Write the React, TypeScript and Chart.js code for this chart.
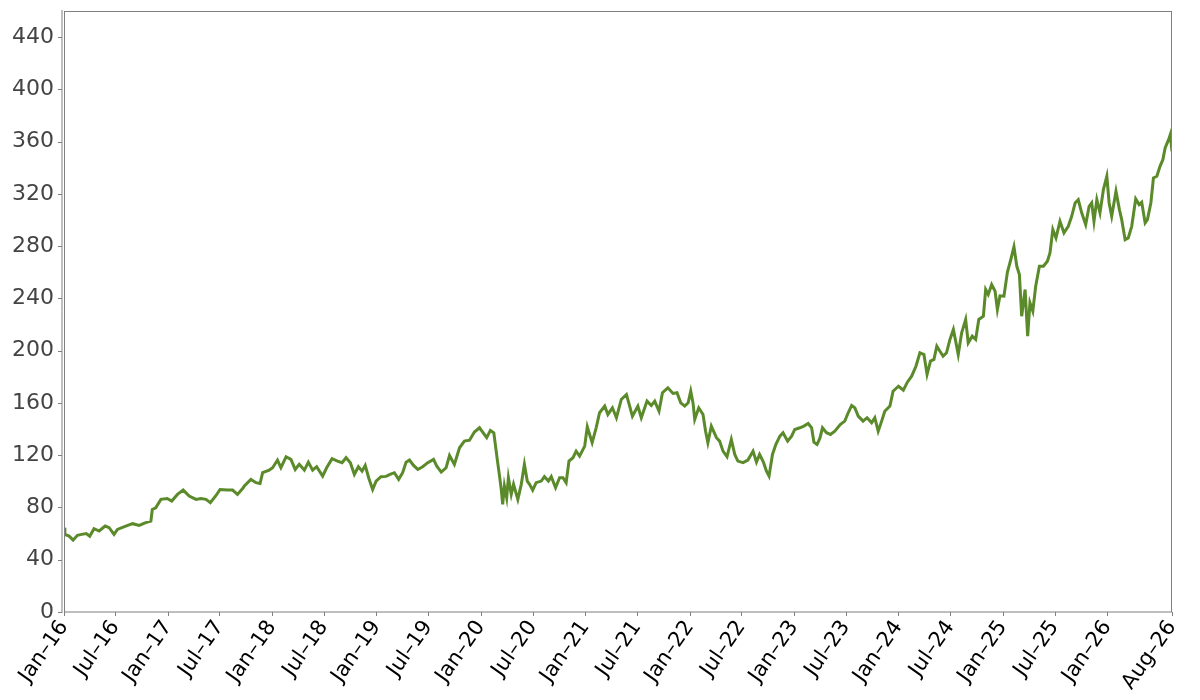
import { useEffect, useRef } from 'react';
import { Chart, registerables } from 'chart.js';

Chart.register(...registerables);

// closing values, one every couple of weeks
const dates = [
  '2016-01-04', '2016-01-07', '2016-01-22', '2016-02-05', '2016-02-20', '2016-03-06', '2016-03-22', '2016-04-03',
  '2016-04-18', '2016-05-06', '2016-05-27', '2016-06-10', '2016-06-27', '2016-07-09', '2016-08-07', '2016-08-31',
  '2016-09-23', '2016-10-16', '2016-11-03', '2016-11-08', '2016-11-20', '2016-12-08', '2016-12-30',
  '2017-01-15', '2017-02-04', '2017-02-24', '2017-03-17', '2017-04-10', '2017-04-27', '2017-05-15', '2017-05-30',
  '2017-06-19', '2017-07-03', '2017-07-29', '2017-08-16', '2017-09-02', '2017-09-20', '2017-09-26', '2017-10-19',
  '2017-11-06', '2017-11-20', '2017-11-29', '2017-12-22',
  '2018-01-03', '2018-01-20', '2018-02-01', '2018-02-19', '2018-03-08', '2018-03-23', '2018-04-06', '2018-04-24',
  '2018-05-08', '2018-05-23', '2018-06-06', '2018-06-27', '2018-07-11', '2018-07-30', '2018-08-18', '2018-09-03',
  '2018-09-17', '2018-10-02', '2018-10-16', '2018-10-30', '2018-11-12', '2018-11-23', '2018-12-05', '2018-12-19',
  '2018-12-31',
  '2019-01-17', '2019-02-04', '2019-02-18', '2019-03-05', '2019-03-20', '2019-04-03', '2019-04-15', '2019-04-27',
  '2019-05-11', '2019-05-26', '2019-06-12', '2019-06-30', '2019-07-20', '2019-07-31', '2019-08-16', '2019-09-02',
  '2019-09-14', '2019-10-01', '2019-10-19', '2019-11-05', '2019-11-23', '2019-12-10', '2019-12-28',
  '2020-01-08', '2020-01-22', '2020-02-04', '2020-02-16', '2020-02-22', '2020-02-28', '2020-03-07', '2020-03-13',
  '2020-03-18', '2020-03-24', '2020-04-01', '2020-04-07', '2020-04-17', '2020-04-25', '2020-05-10', '2020-05-22',
  '2020-06-02', '2020-06-12', '2020-06-20', '2020-07-01', '2020-07-13', '2020-07-31', '2020-08-11', '2020-08-25',
  '2020-09-04', '2020-09-19', '2020-10-03', '2020-10-15', '2020-10-26', '2020-11-05', '2020-11-19', '2020-11-30',
  '2020-12-12', '2020-12-30',
  '2021-01-08', '2021-01-25', '2021-02-08', '2021-02-20', '2021-03-10', '2021-03-21', '2021-04-06', '2021-04-20',
  '2021-05-07', '2021-05-25', '2021-06-15', '2021-07-04', '2021-07-16', '2021-08-05', '2021-08-20', '2021-09-01',
  '2021-09-16', '2021-09-28', '2021-10-17', '2021-11-04', '2021-11-18', '2021-12-01', '2021-12-15', '2021-12-27',
  '2022-01-05', '2022-01-13', '2022-01-19', '2022-02-02', '2022-02-17', '2022-02-26', '2022-03-06', '2022-03-18',
  '2022-04-05', '2022-04-16', '2022-04-28', '2022-05-12', '2022-05-27', '2022-06-08', '2022-06-19', '2022-07-07',
  '2022-07-24', '2022-08-11', '2022-08-23', '2022-09-03', '2022-09-17', '2022-09-27', '2022-10-06', '2022-10-18',
  '2022-10-30', '2022-11-13', '2022-11-24', '2022-12-10', '2022-12-24',
  '2023-01-04', '2023-01-22', '2023-02-05', '2023-02-20', '2023-03-04', '2023-03-12', '2023-03-23', '2023-04-02',
  '2023-04-11', '2023-04-25', '2023-05-09', '2023-05-24', '2023-06-13', '2023-06-28', '2023-07-10', '2023-07-22',
  '2023-08-02', '2023-08-14', '2023-08-31', '2023-09-14', '2023-09-30', '2023-10-11', '2023-10-23', '2023-11-04',
  '2023-11-15', '2023-12-03', '2023-12-14',
  '2024-01-02', '2024-01-19', '2024-02-02', '2024-02-17', '2024-03-03', '2024-03-17', '2024-03-31', '2024-04-11',
  '2024-04-23', '2024-05-05', '2024-05-15', '2024-05-26', '2024-06-06', '2024-06-18', '2024-06-30', '2024-07-12',
  '2024-07-20', '2024-07-29', '2024-08-10', '2024-08-24', '2024-09-02', '2024-09-16', '2024-09-28', '2024-10-09',
  '2024-10-25', '2024-11-02', '2024-11-11', '2024-11-23', '2024-12-05', '2024-12-13', '2024-12-22',
  '2025-01-05', '2025-01-17', '2025-01-29', '2025-02-09', '2025-02-19', '2025-02-28', '2025-03-08', '2025-03-20',
  '2025-03-29', '2025-04-06', '2025-04-16', '2025-04-26', '2025-05-09', '2025-05-23', '2025-06-06', '2025-06-15',
  '2025-06-25', '2025-07-06', '2025-07-20', '2025-08-03', '2025-08-18', '2025-08-30', '2025-09-11', '2025-09-22',
  '2025-10-04', '2025-10-18', '2025-10-30', '2025-11-08', '2025-11-16', '2025-11-26', '2025-12-07', '2025-12-19',
  '2025-12-31',
  '2026-01-08', '2026-01-17', '2026-02-01', '2026-02-13', '2026-02-21', '2026-03-05', '2026-03-16', '2026-03-28',
  '2026-04-11', '2026-04-23', '2026-05-02', '2026-05-14', '2026-05-22', '2026-06-03', '2026-06-12', '2026-06-24',
  '2026-07-05', '2026-07-15', '2026-07-23', '2026-08-04', '2026-08-10', '2026-08-16',
];

const values = [
  64.5, 59.4, 58.1, 55.0, 58.7, 59.4, 60.0, 58.0,
  63.8, 62.0, 65.8, 64.5, 59.4, 63.2, 65.8, 67.6,
  66.3, 68.4, 69.6, 78.5, 79.8, 86.2, 86.9,
  84.9, 90.0, 93.3, 88.7, 86.2, 86.9, 86.2, 83.7,
  89.2, 93.8, 93.3, 93.3, 90.0, 94.5, 96.4, 101.5,
  99.0, 98.3, 106.6, 108.6,
  110.4, 116.3, 110.4, 118.8, 116.8, 109.1, 113.0, 108.6,
  114.7, 108.6, 111.2, 104.0, 110.4, 117.3, 115.5, 114.3,
  118.1, 114.3, 105.3, 111.2, 107.8, 112.2, 102.8, 93.8,
  100.2,
  103.6, 103.8, 105.3, 106.6, 101.5, 106.6, 114.7, 116.3,
  112.2, 109.1, 111.2, 114.3, 116.8, 111.8, 107.1, 110.4,
  119.8, 113.0, 125.7, 130.8, 131.5, 137.7, 141.0,
  137.7, 133.4, 139.0, 137.2, 127.0, 116.8, 104.0, 93.8,
  82.4, 96.4, 87.5, 102.8, 90.0, 97.7, 86.2, 97.7,
  113.0, 100.2, 97.7, 93.3, 99.0, 100.2, 103.6, 100.2,
  103.6, 95.1, 102.8, 102.8, 99.0, 115.5, 118.1, 123.1,
  119.3, 127.0,
  141.8, 129.6, 141.0, 152.5, 157.6, 151.2, 156.3, 148.7,
  162.7, 166.5, 149.9, 157.6, 148.7, 161.4, 158.0, 161.4,
  153.7, 167.8, 171.6, 167.3, 167.8, 160.1, 157.6, 160.1,
  169.0, 160.0, 147.4, 156.3, 151.2, 138.4, 129.6, 142.3,
  133.4, 130.8, 123.1, 118.8, 132.1, 120.6, 115.5, 114.3,
  116.3, 123.1, 114.7, 120.6, 114.3, 107.8, 104.0, 120.6,
  128.3, 134.6, 137.2, 130.8, 134.6,
  139.7, 141.0, 142.3, 144.3, 141.0, 130.0, 128.3, 133.0,
  141.0, 137.2, 135.9, 138.4, 143.6, 146.1, 152.5, 158.1,
  156.3, 149.9, 146.1, 148.7, 144.9, 148.7, 138.4, 146.1,
  153.7, 157.6, 169.0,
  172.8, 169.8, 175.9, 180.5, 188.1, 198.4, 197.1, 181.8,
  192.0, 193.3, 203.4, 199.6, 195.8, 198.4, 208.6, 216.2,
  207.3, 197.1, 213.7, 223.9, 206.0, 211.1, 208.6, 223.9,
  226.4, 246.8, 243.0, 250.6, 245.5, 231.5, 242.0,
  241.7, 260.0, 269.8, 279.5, 264.6, 258.3, 226.4, 246.8,
  211.1, 236.6, 230.2, 249.3, 264.6, 264.6, 268.5, 274.9,
  292.7, 286.3, 299.0, 290.2, 295.2, 302.9, 313.1, 315.6,
  305.5, 296.5, 310.5, 313.1, 299.0, 315.6, 305.5, 323.3,
  333.5,
  313.1, 302.9, 322.0, 308.0, 300.3, 285.0, 286.3, 295.2,
  316.2, 311.8, 313.6, 297.8, 300.3, 313.1, 332.2, 333.5,
  341.1, 346.2, 355.2, 361.5, 365.4, 352.6,
];

const tickDates = [
  '2016-01-04', '2016-07-01', '2017-01-01', '2017-07-01', '2018-01-01', '2018-07-01', '2019-01-01',
  '2019-07-01', '2020-01-01', '2020-07-01', '2021-01-01', '2021-07-01', '2022-01-01', '2022-07-01',
  '2023-01-01', '2023-07-01', '2024-01-01', '2024-07-01', '2025-01-01', '2025-07-01', '2026-01-01',
  '2026-08-16',
];

const tickLabels = [
  'Jan–16', 'Jul–16', 'Jan–17', 'Jul–17', 'Jan–18', 'Jul–18', 'Jan–19',
  'Jul–19', 'Jan–20', 'Jul–20', 'Jan–21', 'Jul–21', 'Jan–22', 'Jul–22',
  'Jan–23', 'Jul–23', 'Jan–24', 'Jul–24', 'Jan–25', 'Jul–25', 'Jan–26',
  'Aug–26',
];

const FRAME = '#7f7f7f';

// matplotlib-like box plus the y spine sitting a couple of pixels to the left
const framePlugin = {
  id: 'frame',
  afterDatasetsDraw(chart: Chart) {
    const { ctx, chartArea, scales } = chart;
    const { left, right, top, bottom } = chartArea;
    ctx.save();
    ctx.strokeStyle = FRAME;
    ctx.lineWidth = 1;
    ctx.strokeRect(left + 0.5, top + 0.5, right - left - 1, bottom - top - 0.5);

    ctx.beginPath();
    ctx.moveTo(left - 2, top - 1);
    ctx.lineTo(left - 2, bottom + 1);
    scales.y.ticks.forEach((t) => {
      const py = Math.round(scales.y.getPixelForValue(t.value)) + 0.5;
      ctx.moveTo(left - 6, py);
      ctx.lineTo(left - 2, py);
    });
    scales.x.ticks.forEach((t) => {
      const px = Math.round(scales.x.getPixelForValue(t.value)) + 0.5;
      ctx.moveTo(px, bottom);
      ctx.lineTo(px, bottom + 4);
    });
    ctx.stroke();
    ctx.restore();
  },
};

export default function App() {
  const canvasRef = useRef<HTMLCanvasElement>(null);
  const chartRef = useRef<Chart | null>(null);

  useEffect(() => {
    if (!canvasRef.current) return;
    if (chartRef.current) chartRef.current.destroy();

    const points = dates.map((d, i) => ({ x: Date.parse(d), y: values[i] }));

    chartRef.current = new Chart(canvasRef.current, {
      type: 'line',
      data: {
        datasets: [
          {
            data: points,
            borderColor: '#5a8a2a',
            borderWidth: 3,
            pointRadius: 0,
            tension: 0,
            fill: false,
          },
        ],
      },
      options: {
        animation: false,
        responsive: true,
        maintainAspectRatio: false,
        layout: { padding: { left: 0, top: 11, right: 28, bottom: 0 } },
        plugins: {
          legend: { display: false },
          tooltip: { enabled: false },
        },
        scales: {
          x: {
            type: 'linear',
            min: Date.parse(tickDates[0]),
            max: Date.parse(tickDates[tickDates.length - 1]),
            afterBuildTicks: (scale) => {
              scale.ticks = tickDates.map((d) => ({ value: Date.parse(d) }));
            },
            afterFit: (scale) => {
              scale.height = 88;
              scale.paddingLeft = 0;
              scale.paddingRight = 0;
            },
            grid: { display: false, drawTicks: false },
            border: { display: false },
            ticks: {
              autoSkip: false,
              minRotation: 55,
              maxRotation: 55,
              padding: 4,
              color: '#000',
              font: { family: 'DejaVu Sans', size: 21 },
              callback: (_v, i) => tickLabels[i],
            },
          },
          y: {
            min: 0,
            max: 460,
            afterFit: (scale) => {
              scale.width = 64;
              scale.paddingTop = 0;
              scale.paddingBottom = 0;
            },
            grid: { display: false, drawTicks: false },
            border: { display: false },
            ticks: {
              stepSize: 40,
              includeBounds: false,
              padding: 10,
              color: '#444',
              font: { family: 'DejaVu Sans', size: 22 },
            },
          },
        },
      },
      plugins: [framePlugin],
    });

    return () => {
      if (chartRef.current) {
        chartRef.current.destroy();
        chartRef.current = null;
      }
    };
  }, []);

  return (
    <div style={{ position: 'absolute', left: 0, top: 0, width: 1200, height: 700, background: '#fff' }}>
      <canvas ref={canvasRef} />
    </div>
  );
}
